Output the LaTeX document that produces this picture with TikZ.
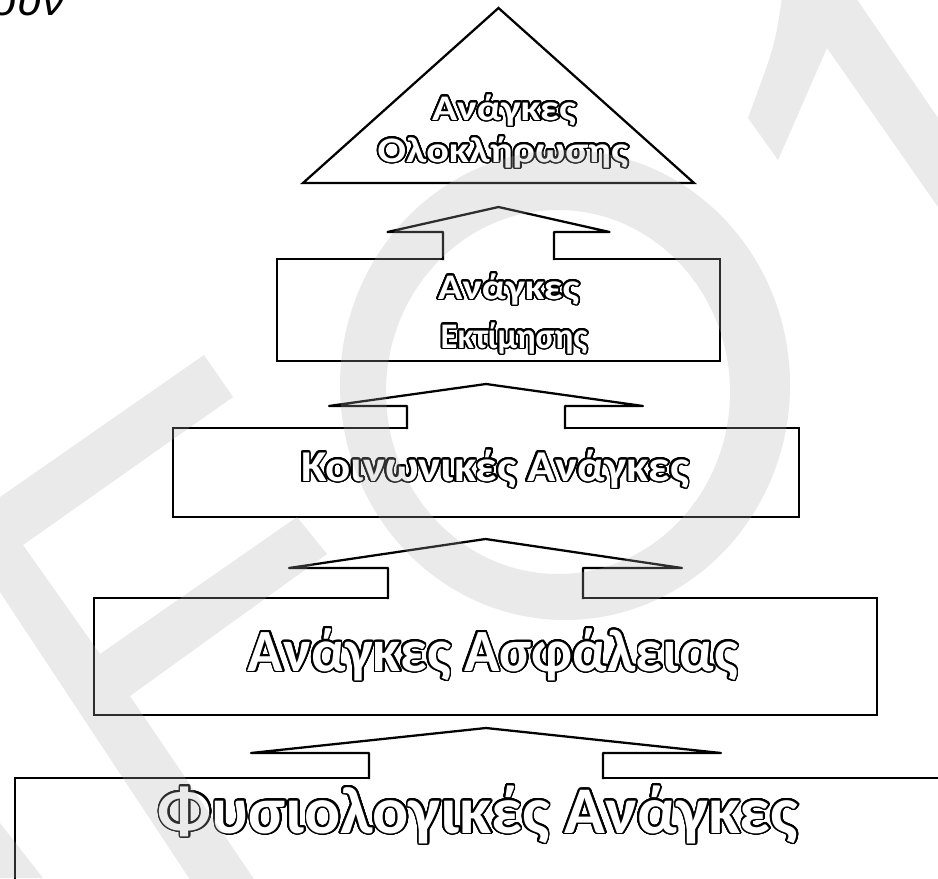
\documentclass[tikz,border=0pt]{standalone}
\usepackage{fontspec}
\setmainfont{Carlito}
\newfontfamily\captionfont{Liberation Sans}
\usepackage{graphicx}
\usepackage{contour}
\contourlength{1.3pt}
\contournumber{32}
\usetikzlibrary{calc}

% white lettering with a thin black outline, stretched to a given width
\protected\def\stretchto#1#2{\resizebox{#1}{\height}{#2}}
\newcommand{\hollow}[2]{\contour{black}{\stretchto{#1}{#2}}}
\newcommand{\tierfont}[1]{\bfseries\fontsize{#1}{#1}\selectfont}

\definecolor{wmgray}{RGB}{175,175,175}

\tikzset{
  tier/.style={draw=black, line width=1.7pt, fill=white, inner sep=0pt, outer sep=0pt},
  hollowtext/.style={text=white, inner sep=0pt, outer sep=0pt, anchor=base},
  outline/.style={draw=black, line width=1.7pt, line join=round, line cap=rect},
  watermark/.style={fill=wmgray, fill opacity=0.26},
}

% block arrow standing on tier #1 and pointing at #2
% #3 half shaft width, #4 half head width, #5 rise of the head base, #6 gap under #2
\newcommand{\blockarrow}[6]{%
  \coordinate (ba-base) at (#1.north);
  \coordinate (ba-tip) at ($(ba-base |- #2)+(0,#6)$);
  \fill[white] ($(ba-base)+(-#3,2)$) -- ($(ba-base)+(-#3,-#5)$) -- ($(ba-base)+(-#4,-#5)$)
     -- (ba-tip) -- ($(ba-base)+(#4,-#5)$) -- ($(ba-base)+(#3,-#5)$) -- ($(ba-base)+(#3,2)$) -- cycle;
  \draw[outline] ($(ba-base)+(-#3,0)$) -- ($(ba-base)+(-#3,-#5)$) -- ($(ba-base)+(-#4,-#5)$)
     -- (ba-tip) -- ($(ba-base)+(#4,-#5)$) -- ($(ba-base)+(#3,-#5)$) -- ($(ba-base)+(#3,0)$);
}

\begin{document}
\begin{tikzpicture}[x=0.75pt,y=-0.75pt]
  \useasboundingbox (0,0) rectangle (938,878);
  \clip (0,0) rectangle (938,878);
  \fill[white] (0,0) rectangle (938,878);

  % heading, cut by the top edge
  \node[anchor=base east, inner sep=0pt, font=\captionfont\itshape\fontsize{34}{34}\selectfont] (heading) at (65,15) {ουν};

  % levels of the pyramid
  \node[minimum width=293.25pt, minimum height=131.25pt, inner sep=0pt, outer sep=0pt] (peak) at (498.5,95.5) {};
  \draw[line width=1.7pt, fill=white] (peak.south west) -- (peak.south east) -- (peak.north) -- cycle;
  \node[tier, minimum width=332.25pt, minimum height=76.5pt]  (esteem) at (498.5,310) {};
  \node[tier, minimum width=469.5pt,  minimum height=66.75pt] (social) at (486,472.5) {};
  \node[tier, minimum width=587.25pt, minimum height=87.75pt] (safety) at (485.5,656.5) {};
  \node[tier, minimum width=706.5pt,  minimum height=112.5pt] (body)   at (486,853) {};

  % upward block arrows between the levels
  \blockarrow{esteem}{peak.south}{55.5}{111}{27}{24}
  \blockarrow{social}{esteem.south}{79}{157}{22}{23}
  \blockarrow{safety}{social.south}{97.5}{196.5}{30}{22}
  \blockarrow{body}{safety.south}{117}{235}{25}{13}

  % labels
  \node[hollowtext, font=\tierfont{27}] (peak-a) at (504,120) {\hollow{108pt}{Ανάγκες}};
  \node[hollowtext, font=\tierfont{27}] (peak-b) at (503,162) {\hollow{188pt}{Ολοκλήρωσης}};
  \node[hollowtext, font=\tierfont{27}] (esteem-a) at (508.5,299) {\hollow{106pt}{Ανάγκες}};
  \node[hollowtext, font=\tierfont{27}] (esteem-b) at (514,348) {\hollow{110pt}{Εκτίμησης}};
  \node[hollowtext, font=\tierfont{33}] (social-a) at (495,481) {\hollow{291pt}{Κοινωνικές Ανάγκες}};
  \node[hollowtext, font=\tierfont{45}] (safety-a) at (493,671) {\hollow{367.5pt}{Ανάγκες Ασφάλειας}};
  \node[hollowtext, font=\tierfont{50}] (body-a) at (478,833) {\hollow{480pt}{Φυσιολογικές Ανάγκες}};

  % faint watermark lettering laid over the sheet
  \fill[watermark]
    % slanted E: top arm, middle arm and stem
    (204,355) -- (233,397) -- (23,545) -- (100,654) -- (297,517) -- (327,554)
      -- (130,696) -- (285,925) -- (220,925) -- (-43,527) -- cycle
    % corner piece at the lower left
    (0,823) -- (43,878) -- (0,878) -- cycle
    % lambda-like letter at the upper right
    (748,118) -- (778,160) -- (827,48) -- (938,207) -- (938,118) -- (856,-2)
      -- (782,-2) .. controls (775,45) .. (748,118) -- cycle;
  % the O ring
  \fill[watermark, even odd rule]
    (565,385) ellipse [x radius=225, y radius=235]
    (558,392) ellipse [x radius=172, y radius=182];
\end{tikzpicture}
\end{document}
